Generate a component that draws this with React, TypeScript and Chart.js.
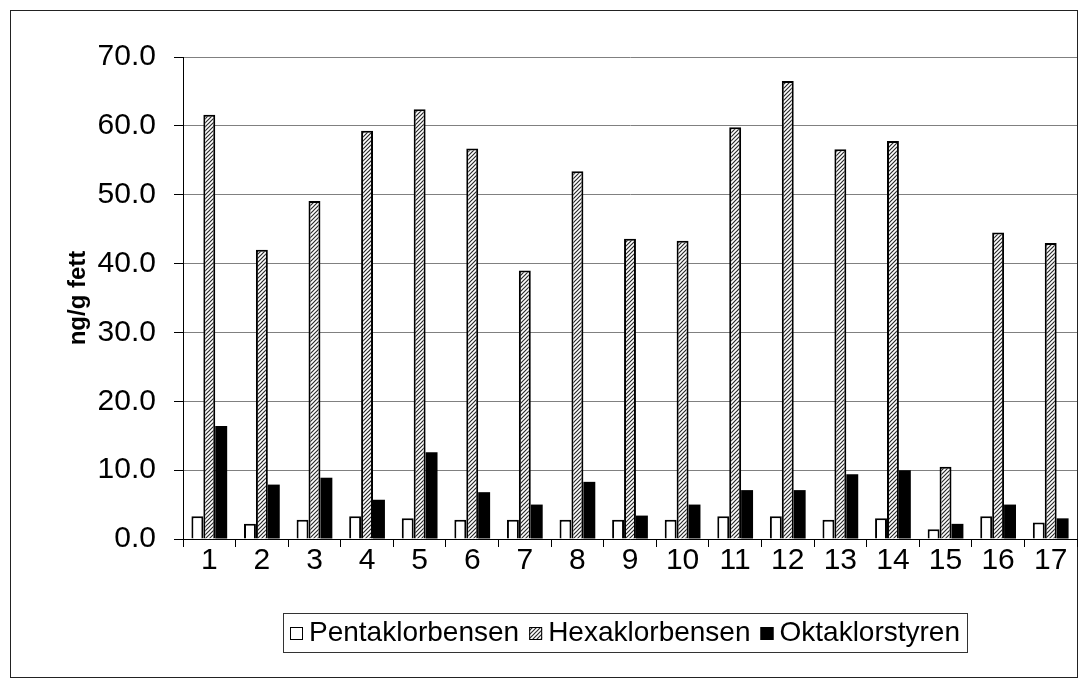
import React, { useEffect, useRef } from 'react';
import { Chart, registerables } from 'chart.js';

Chart.register(...registerables);

document.body.style.margin = '0';

const categories = ['1', '2', '3', '4', '5', '6', '7', '8', '9', '10', '11', '12', '13', '14', '15', '16', '17'];
const pentaklorbensen = [3.3, 2.2, 2.8, 3.3, 3.0, 2.8, 2.8, 2.8, 2.8, 2.8, 3.3, 3.3, 2.8, 3.0, 1.4, 3.3, 2.4];
const hexaklorbensen = [61.6, 42.0, 49.1, 59.3, 62.4, 56.7, 39.0, 53.4, 43.6, 43.3, 59.8, 66.5, 56.6, 57.8, 10.5, 44.5, 43.0];
const oktaklorstyren = [16.4, 7.9, 8.9, 5.7, 12.6, 6.8, 5.0, 8.3, 3.4, 5.0, 7.1, 7.1, 9.4, 10.0, 2.2, 5.0, 3.0];
const seriesNames = ['Pentaklorbensen', 'Hexaklorbensen', 'Oktaklorstyren'];
const yTickValues = [0, 10, 20, 30, 40, 50, 60, 70];
const yTickLabels = ['0.0', '10.0', '20.0', '30.0', '40.0', '50.0', '60.0', '70.0'];
const yTitle = 'ng/g fett';

const FONT = '"Liberation Sans", Arial, sans-serif';

function makeHatch(): CanvasPattern | string {
  const c = document.createElement('canvas');
  c.width = 4;
  c.height = 4;
  const g = c.getContext('2d');
  if (!g) return '#999';
  g.fillStyle = '#fff';
  g.fillRect(0, 0, 4, 4);
  g.strokeStyle = '#2a2a2a';
  g.lineWidth = 1.2;
  g.beginPath();
  g.moveTo(-1, 5); g.lineTo(5, -1);
  g.moveTo(-1, 1); g.lineTo(1, -1);
  g.moveTo(3, 5); g.lineTo(5, 3);
  g.stroke();
  return g.createPattern(c, 'repeat') || '#999';
}

const framePlugin = {
  id: 'frame',
  beforeDraw(chart: any) {
    const ctx = chart.ctx;
    ctx.save();
    ctx.fillStyle = '#fff';
    ctx.fillRect(0, 0, chart.width, chart.height);
    ctx.strokeStyle = '#222';
    ctx.lineWidth = 1;
    ctx.strokeRect(10.5, 10.5, 1067, 667);
    ctx.restore();
  },
};

const legendPlugin = {
  id: 'boxLegend',
  afterDraw(chart: any) {
    const ctx = chart.ctx;
    ctx.save();
    ctx.font = `28px ${FONT}`;
    const marker = 13;
    const gapMT = 6;
    const gapItems = 10;
    const padX = 7;
    const widths = seriesNames.map((n) => ctx.measureText(n).width);
    const content =
      widths.reduce((a, b) => a + b, 0) +
      seriesNames.length * (marker + gapMT) +
      (seriesNames.length - 1) * gapItems;
    const cx = 625;
    const top = 613;
    const h = 39;
    const left = Math.round(cx - content / 2 - padX);
    const w = Math.round(content + 2 * padX);
    ctx.fillStyle = '#fff';
    ctx.fillRect(left, top, w, h);
    ctx.strokeStyle = '#333';
    ctx.lineWidth = 1;
    ctx.strokeRect(left + 0.5, top + 0.5, w, h);
    let x = left + padX;
    const cy = top + h / 2 + 1;
    seriesNames.forEach((n, i) => {
      const ds = chart.data.datasets[i];
      const my = Math.round(cy - marker / 2);
      ctx.fillStyle = ds.backgroundColor;
      ctx.fillRect(x, my, marker, marker);
      ctx.strokeStyle = '#000';
      ctx.lineWidth = 1;
      ctx.strokeRect(x + 0.5, my + 0.5, marker - 1, marker - 1);
      x += marker + gapMT;
      ctx.fillStyle = '#000';
      ctx.textBaseline = 'middle';
      ctx.textAlign = 'left';
      ctx.fillText(n, x, cy);
      x += widths[i] + gapItems;
    });
    ctx.restore();
  },
};

export default function App() {
  const ref = useRef<HTMLCanvasElement>(null);

  useEffect(() => {
    if (!ref.current) return;
    const hatch = makeHatch();
    const chart = new Chart(ref.current, {
      type: 'bar',
      data: {
        labels: categories,
        datasets: [
          {
            label: seriesNames[0],
            data: pentaklorbensen,
            backgroundColor: '#ffffff',
            borderColor: '#000',
            borderWidth: 2,
            barPercentage: 1,
            categoryPercentage: 0.68,
          },
          {
            label: seriesNames[1],
            data: hexaklorbensen,
            backgroundColor: hatch as any,
            borderColor: '#000',
            borderWidth: 2,
            barPercentage: 1,
            categoryPercentage: 0.68,
          },
          {
            label: seriesNames[2],
            data: oktaklorstyren,
            backgroundColor: '#000000',
            borderColor: '#000',
            borderWidth: 0,
            barPercentage: 1,
            categoryPercentage: 0.68,
          },
        ],
      },
      options: {
        responsive: false,
        animation: false,
        layout: { padding: { top: 57, right: 5, left: 0, bottom: 0 } },
        plugins: {
          legend: { display: false },
          tooltip: { enabled: false },
        },
        scales: {
          x: {
            grid: {
              display: true,
              drawOnChartArea: false,
              drawTicks: true,
              tickLength: 8,
              color: '#000',
              offset: true,
            },
            border: { display: true, color: '#000', width: 1 },
            ticks: {
              font: { size: 30, family: FONT },
              color: '#000',
              padding: -4,
              maxRotation: 0,
              autoSkip: false,
            },
            afterFit: (s: any) => {
              s.height = 145;
            },
          },
          y: {
            min: 0,
            max: 70,
            afterBuildTicks: (s: any) => {
              s.ticks = yTickValues.map((v) => ({ value: v }));
            },
            ticks: {
              font: { size: 30, family: FONT },
              color: '#000',
              padding: 18,
              callback: (_v: any, i: number) => yTickLabels[i],
            },
            grid: {
              color: '#808080',
              tickColor: '#000',
              tickLength: 9,
              lineWidth: 1,
            },
            border: { display: true, color: '#000', width: 1 },
            title: {
              display: true,
              text: yTitle,
              color: '#000',
              font: { size: 24, weight: 'bold', family: FONT },
              padding: { top: 64, bottom: 0 },
            },
            afterFit: (s: any) => {
              s.width = 183;
            },
          },
        },
      },
      plugins: [framePlugin, legendPlugin],
    });
    return () => chart.destroy();
  }, []);

  return (
    <div style={{ width: 1082, height: 684 }}>
      <canvas ref={ref} width={1082} height={684} style={{ display: 'block' }} />
    </div>
  );
}
